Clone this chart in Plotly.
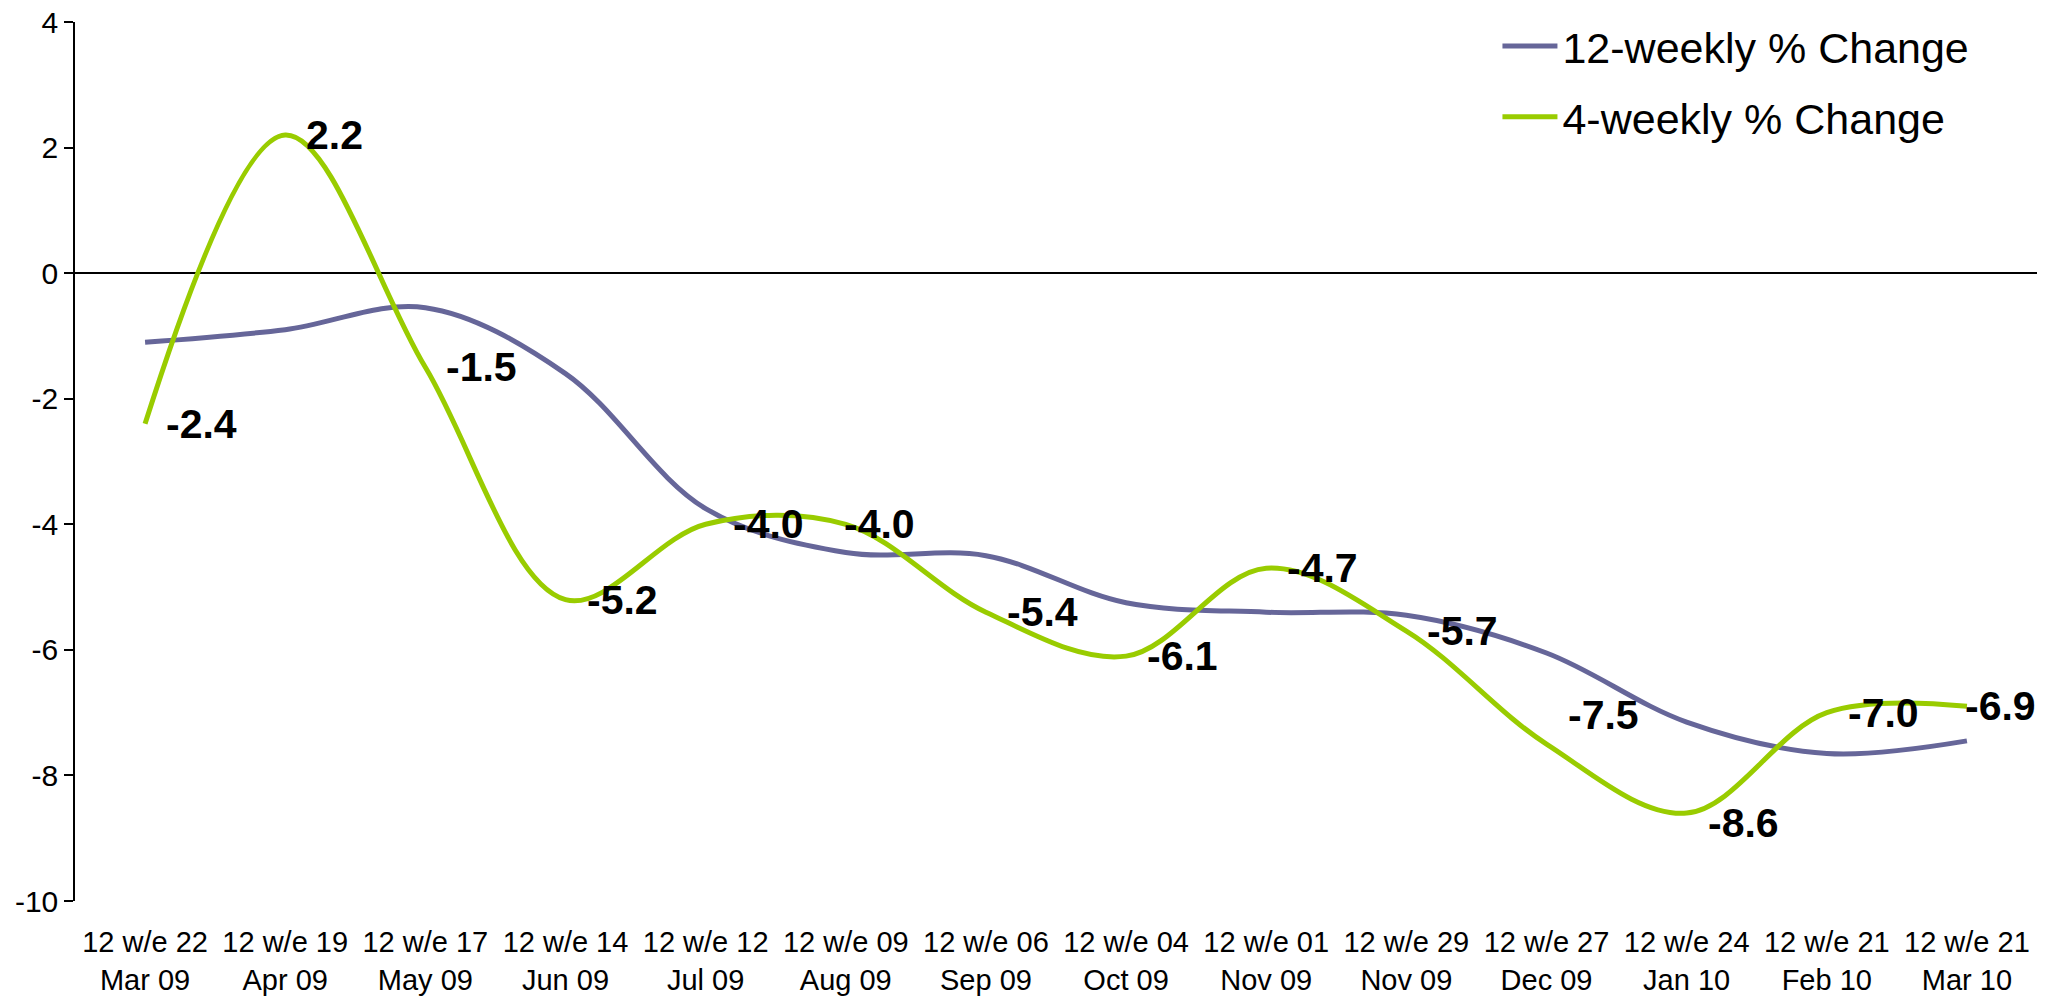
import plotly.graph_objects as go

periods = [
    "12 w/e 22<br>Mar 09", "12 w/e 19<br>Apr 09", "12 w/e 17<br>May 09",
    "12 w/e 14<br>Jun 09", "12 w/e 12<br>Jul 09", "12 w/e 09<br>Aug 09",
    "12 w/e 06<br>Sep 09", "12 w/e 04<br>Oct 09", "12 w/e 01<br>Nov 09",
    "12 w/e 29<br>Nov 09", "12 w/e 27<br>Dec 09", "12 w/e 24<br>Jan 10",
    "12 w/e 21<br>Feb 10", "12 w/e 21<br>Mar 10",
]
change_12wk = [-1.1, -0.9, -0.55, -1.6, -3.75, -4.45, -4.5,
               -5.25, -5.4, -5.45, -6.05, -7.15, -7.65, -7.45]
change_4wk = [-2.4, 2.2, -1.5, -5.2, -4.0, -4.0, -5.4,
              -6.1, -4.7, -5.7, -7.5, -8.6, -7.0, -6.9]
y_ticks = [4, 2, 0, -2, -4, -6, -8, -10]
y_tick_text = ["4", "2", "0", "-2", "-4", "-6", "-8", "-10"]

PURPLE = "#666699"
GREEN = "#99CC00"
FONT = "Liberation Sans, Arial, sans-serif"

# a few data labels sit off the default spot in the original
label_nudge = {4: (25, 0), 5: (-4, 0), 10: (19, 29), 11: (19, -10), 13: (-4, 0)}

fig = go.Figure()
fig.add_trace(go.Scatter(
    x=periods, y=change_12wk, name="12-weekly % Change", mode="lines",
    line=dict(color=PURPLE, width=5, shape="spline", smoothing=1.0),
    legendgroup="a",
))
fig.add_trace(go.Scatter(
    x=periods, y=change_4wk, name="4-weekly % Change", mode="lines",
    line=dict(color=GREEN, width=5, shape="spline", smoothing=1.0),
    legendgroup="b",
))

for i, (p, v) in enumerate(zip(periods, change_4wk)):
    dx, dy = label_nudge.get(i, (19, 0))
    fig.add_annotation(
        x=p, y=v, text=f"<b>{v:.1f}</b>", showarrow=False,
        xanchor="left", yanchor="middle", xshift=dx, yshift=dy,
        font=dict(family=FONT, size=41, color="black"),
    )

fig.update_layout(
    width=2051, height=998,
    margin=dict(l=75, r=14, t=22, b=97, pad=0, autoexpand=False),
    paper_bgcolor="white", plot_bgcolor="white",
    font=dict(family=FONT, color="black"),
    showlegend=True,
    legend=dict(
        x=0.725, y=1.012, xanchor="left", yanchor="top",
        font=dict(family=FONT, size=43, color="black"),
        bgcolor="rgba(0,0,0,0)", tracegroupgap=12, itemwidth=55,
    ),
)
fig.update_xaxes(
    type="category", range=[-0.5, len(periods) - 0.5], automargin=False,
    showline=False, showgrid=False, zeroline=False, ticks="",
    tickfont=dict(family=FONT, size=29, color="black"),
    ticklabelstandoff=21,
)
fig.update_yaxes(
    range=[-10, 4], tickvals=y_ticks, ticktext=y_tick_text, automargin=False,
    ticklabeloverflow="allow",
    showline=True, linecolor="black", linewidth=1.5,
    ticks="outside", ticklen=9, tickcolor="black", tickwidth=1.5,
    showgrid=False, zeroline=True, zerolinecolor="black", zerolinewidth=1.5,
    tickfont=dict(family=FONT, size=30, color="black"),
)

# drop the browser's default body margin so the figure sits at the window corner
fig.write_html(
    "out.html",
    config={"displayModeBar": False},
    post_script="document.body.style.margin = '0';",
)
